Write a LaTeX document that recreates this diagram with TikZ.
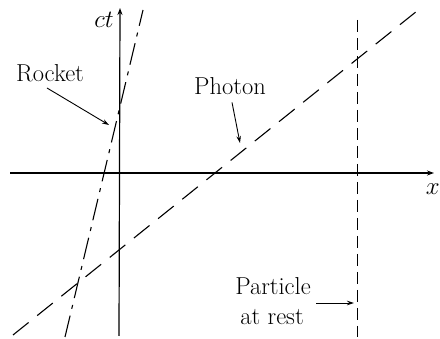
\documentclass[tikz,border=0pt]{standalone}
\usepackage{fontspec}
\usetikzlibrary{arrows.meta}
\begin{document}
\begin{tikzpicture}[x=1pt,y=-1pt,
  axis/.style={line width=1.2pt,-{Stealth[length=7pt,width=5pt]}},
  rocketline/.style={line width=1.1pt,dash pattern=on 22pt off 7pt on 4pt off 7pt},
  photonline/.style={line width=1.1pt,dash pattern=on 20pt off 11pt},
  restline/.style={line width=1pt,dash pattern=on 12pt off 6pt},
  lbl/.style={font=\fontsize{24.5}{28}\selectfont,inner sep=0pt,anchor=base},
  pointer/.style={line width=0.9pt,-{Stealth[length=7pt,width=4.5pt]}}]
\useasboundingbox (0,0) rectangle (440,339);
% axes
\coordinate (xs) at (10,173);
\coordinate (xe) at (434,173);
\coordinate (ys) at (119,336);
\coordinate (ye) at (120,8);
\draw[axis] (xs) -- (xe);
\draw[axis] (ys) -- (ye);
\node[lbl,anchor=center] (ctlbl) at (104,20) {$ct$};
\node[lbl,anchor=east] (xlbl) at (440,189) {$x$};
% world lines
\coordinate (r1) at (65,337);
\coordinate (r2) at (143,10);
\draw[rocketline] (r1) -- (r2);
\coordinate (p1) at (13,335);
\coordinate (p2) at (422,7);
\draw[photonline] (p1) -- (p2);
\coordinate (q1) at (357,20);
\coordinate (q2) at (357,337);
\draw[restline] (q1) -- (q2);
% labels
\node[lbl] (rocket) at (50,82) {Rocket};
\coordinate (rtip) at (109,125);
\draw[pointer] (47,88) -- (rtip);
\node[lbl] (photon) at (230,95) {Photon};
\coordinate (ptip) at (240,143);
\draw[pointer] (photon.south) ++(2,7) -- (ptip);
\node[lbl] (particle) at (273,295) {Particle};
\node[lbl] (atrest) at (272,325) {at rest};
\coordinate (atip) at (354,303);
\draw[pointer] (316,303) -- (atip);
\end{tikzpicture}
\end{document}
